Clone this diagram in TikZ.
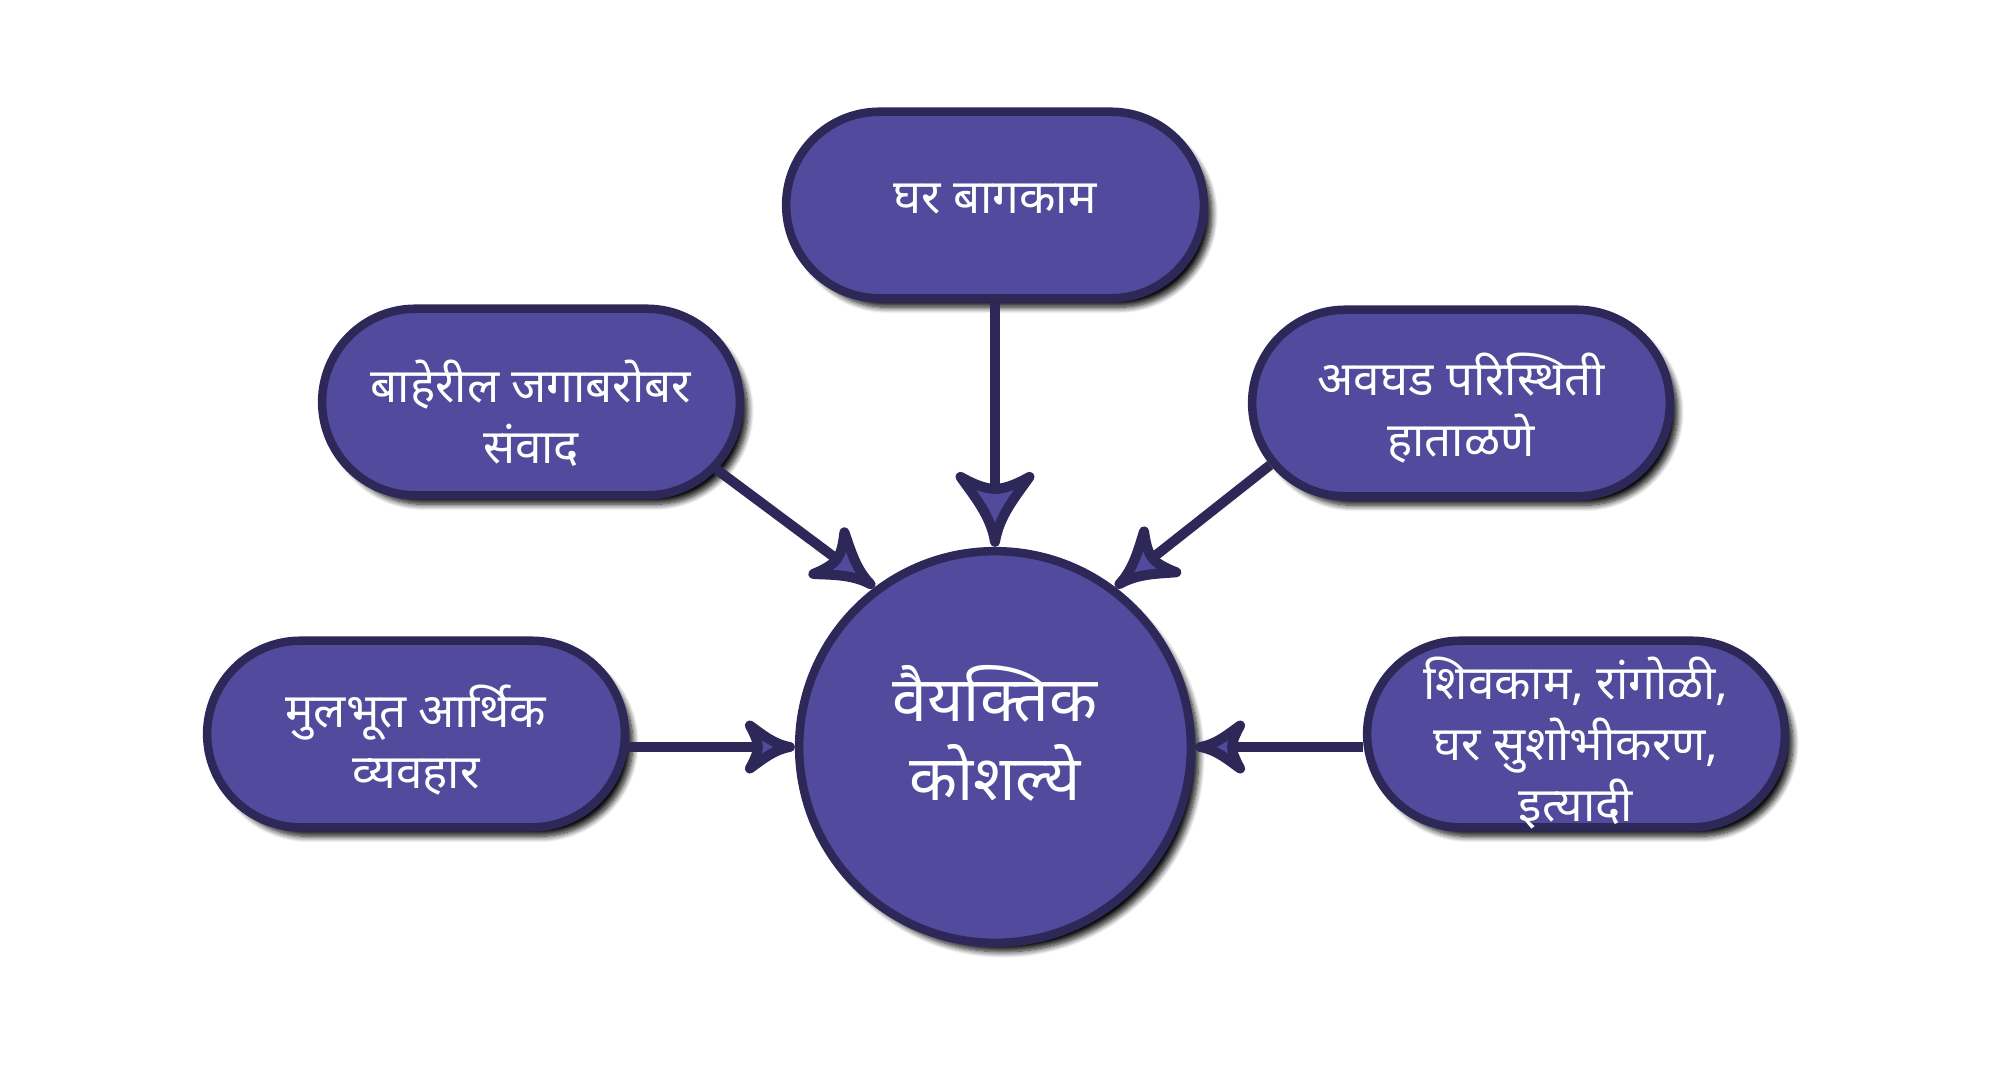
\documentclass[tikz,border=0pt]{standalone}
\usepackage{fontspec}
\newfontfamily\deva[Script=Devanagari]{Noto Sans}
\usetikzlibrary{shapes.misc,shadows.blur,arrows.meta}
\definecolor{pfill}{HTML}{514A9D}
\definecolor{pline}{HTML}{2E2858}
\newdimen\dartL
\newdimen\dartH
\newdimen\dartN
\pgfdeclarearrow{
  name = Dart,
  parameters = {\the\pgfarrowlength,\the\pgfarrowwidth,\the\pgfarrowinset,\the\pgflinewidth},
  setup code = {
    \dartL=\pgfarrowlength
    \dartN=\pgfarrowinset
    \advance\dartN by -\dartL
    \pgfarrowssettipend{.5\pgflinewidth}
    \pgfarrowssetbackend{-\pgfarrowlength}
    \pgfarrowssetlineend{\dartN}
    \pgfarrowssetvisualbackend{\dartN}
    \pgfarrowshullpoint{0pt}{0pt}
    \pgfarrowshullpoint{-\pgfarrowlength}{.5\pgfarrowwidth}
    \pgfarrowshullpoint{-\pgfarrowlength}{-.5\pgfarrowwidth}
    \pgfarrowssavethe\pgfarrowlength
    \pgfarrowssavethe\pgfarrowwidth
    \pgfarrowssavethe\pgfarrowinset
  },
  drawing code = {
    \pgfsetdash{}{+0pt}
    \pgfsetroundjoin
    \pgfsetfillcolor{pfill}
    \dartL=\pgfarrowlength
    \dartH=.5\pgfarrowwidth
    \dartN=\pgfarrowinset
    \advance\dartN by -\dartL
    \pgfpathmoveto{\pgfqpoint{0pt}{0pt}}
    \pgfpathcurveto{\pgfqpoint{-.4\dartL}{.12\dartH}}{\pgfqpoint{-.7\dartL}{.6\dartH}}{\pgfqpoint{-\dartL}{\dartH}}
    \pgfpathcurveto{\pgfqpoint{-.85\dartL}{.5\dartH}}{\pgfqpoint{\dartN}{.2\dartH}}{\pgfqpoint{\dartN}{0pt}}
    \pgfpathcurveto{\pgfqpoint{\dartN}{-.2\dartH}}{\pgfqpoint{-.85\dartL}{-.5\dartH}}{\pgfqpoint{-\dartL}{-\dartH}}
    \pgfpathcurveto{\pgfqpoint{-.7\dartL}{-.6\dartH}}{\pgfqpoint{-.4\dartL}{-.12\dartH}}{\pgfqpoint{0pt}{0pt}}
    \pgfpathclose
    \pgfusepathqfillstroke
  },
  defaults = {length=5mm,width=5mm,inset=1mm}
}
% lower (or raise) the lines of a label, without letting them change the node's size
\newcommand\movetext[2]{\makebox[0pt]{\raisebox{#1}[\height][\depth]{\begin{tabular}{@{}c@{}}#2\end{tabular}}}}
\tikzset{
  shade/.style={blur shadow={shadow xshift=0.08cm, shadow yshift=-0.09cm,
      shadow blur radius=0.06cm, shadow blur steps=10, shadow opacity=95}},
  pill/.style={rounded rectangle, draw=pline, fill=pfill, line width=0.085cm,
      minimum width=4.175cm, minimum height=1.865cm, inner sep=0pt, align=center,
      text=white, font=\deva\fontsize{13.5}{17.4}\selectfont, shade},
  hub/.style={circle, draw=pline, fill=pfill, line width=0.085cm,
      minimum size=3.915cm, inner sep=0pt, align=center,
      text=white, font=\deva\fontsize{17.8}{21.8}\selectfont, shade},
  conn/.style={draw=pline, line width=0.1cm},
  bighead/.style={-{Dart[length=0.65cm,width=0.69cm,inset=0.12cm]}},
  midhead/.style={-{Dart[length=0.52cm,width=0.52cm,inset=0.1cm]}},
  smallhead/.style={-{Dart[length=0.40cm,width=0.43cm,inset=0.08cm]}},
}
\begin{document}
\begin{tikzpicture}[x=0.01cm,y=-0.01cm]
\useasboundingbox (0,0) rectangle (2000,1072);
\node[pill] (t)  at (995,205)  {\movetext{0.04cm}{घर बागकाम}};
\node[pill] (lu) at (531,402)  {\movetext{-0.19cm}{बाहेरील जगाबरोबर\\संवाद}};
\node[pill] (ru) at (1461,403) {\movetext{-0.11cm}{अवघड परिस्थिती\\हाताळणे}};
\node[pill] (ll) at (416,734)  {\movetext{-0.12cm}{मुलभूत आर्थिक\\व्यवहार}};
\node[pill] (rl) at (1576,734) {\movetext{-0.14cm}{शिवकाम, रांगोळी,\\घर सुशोभीकरण,\\इत्यादी}};
\node[hub]  (c)  at (995,747)  {\movetext{0.03cm}{वैयक्तिक\\कोशल्ये}};
\draw[conn,bighead] (t.south) -- (c.north);
\draw[conn,midhead] (lu.-20) -- (c.127);
\draw[conn,midhead] (ru.198) -- (c.53);
\draw[conn,smallhead] (c.west -| ll.east) -- (c.west);
\draw[conn,smallhead] (c.east -| rl.west) -- (c.east);
\end{tikzpicture}
\end{document}
